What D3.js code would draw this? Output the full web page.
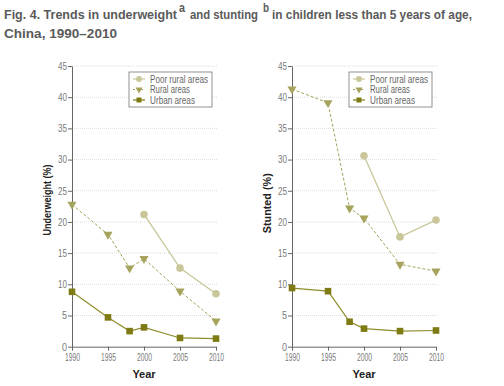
<!DOCTYPE html>
<html>
<head>
<meta charset="utf-8">
<script src="https://cdn.jsdelivr.net/npm/d3@7"></script>
<style>
body { margin: 0; background: #fff; }
.title { font-family: "Liberation Sans", Arial, sans-serif; font-weight: bold; font-size: 12.5px; fill: #5a5a5a; }
.tick text { font-family: "Liberation Sans", sans-serif; font-size: 10.5px; fill: #7a7a7a; }
.lab { font-family: "Liberation Sans", sans-serif; font-weight: bold; font-size: 11px; fill: #222; }
.leg { font-family: "Liberation Sans", sans-serif; font-size: 10px; fill: #666; }
</style>
</head>
<body>
<div id="chart"></div>
<script>
const years = [1990, 1995, 1998, 2000, 2005, 2010];
const poorYears = [2000, 2005, 2010];
const xTicks = [1990, 1995, 2000, 2005, 2010];
const yTicks = [0, 5, 10, 15, 20, 25, 30, 35, 40, 45];

const underweightPoor = [21.2, 12.6, 8.5];
const underweightRural = [22.8, 18.0, 12.6, 14.1, 8.9, 4.1];
const underweightUrban = [8.8, 4.7, 2.5, 3.1, 1.4, 1.3];

const stuntedPoor = [30.6, 17.6, 20.3];
const stuntedRural = [41.3, 39.1, 22.2, 20.6, 13.2, 12.1];
const stuntedUrban = [9.4, 8.9, 4.0, 2.9, 2.5, 2.6];

const width = 504, height = 386;
const colPoor = "#c9c79a", colRural = "#a5a35c", colUrban = "#7e7b14";

const svg = d3.select("#chart").append("svg")
    .attr("width", width)
    .attr("height", height);

// title line 1 as one text, pieces fitted to the widths in the original
const titleParts = [
    { t: "Fig. 4. Trends in underweight", x: 4, w: 173, y: 19 },
    { t: "a", x: 179, w: 6, y: 12 },
    { t: "and stunting", x: 190, w: 68, y: 19 },
    { t: "b", x: 263, w: 6, y: 12 },
    { t: "in children less than 5 years of age,", x: 272, w: 200, y: 19 }
];
const title = svg.append("text").attr("class", "title");
titleParts.forEach(p => {
    title.append("tspan")
        .attr("x", p.x).attr("y", p.y)
        .attr("textLength", p.w).attr("lengthAdjust", "spacingAndGlyphs")
        .text(p.t);
});
svg.append("text").attr("class", "title").attr("x", 4).attr("y", 38)
    .attr("textLength", 113).attr("lengthAdjust", "spacingAndGlyphs")
    .text("China, 1990\u20132010");

function fit(sel, w) {
    sel.attr("textLength", w).attr("lengthAdjust", "spacingAndGlyphs");
}

function panel(left, yLabel, poor, rural, urban) {
    const x = d3.scaleLinear().domain([1990, 2010]).range([left, left + 144]);
    const y = d3.scaleLinear().domain([0, 45]).range([346.7, 66]);
    const g = svg.append("g");

    g.selectAll(".grid").data(yTicks.slice(1)).enter().append("line")
        .attr("x1", left).attr("x2", left + 145)
        .attr("y1", d => y(d)).attr("y2", d => y(d))
        .attr("stroke", "#ddd").attr("stroke-dasharray", "1,1");

    const xa = g.append("g")
        .attr("transform", `translate(0,${y(0)})`)
        .call(d3.axisBottom(x).tickValues(xTicks).tickFormat(d3.format("d")).tickSize(4).tickSizeOuter(0));
    const ya = g.append("g")
        .attr("transform", `translate(${left},0)`)
        .call(d3.axisLeft(y).tickValues(yTicks).tickSize(4).tickSizeOuter(0));
    [xa, ya].forEach(a => {
        a.select(".domain").attr("stroke", "#666");
        a.selectAll(".tick line").attr("stroke", "#666");
    });
    ya.selectAll(".tick text").attr("x", -5).each(function (d) {
        fit(d3.select(this), d >= 10 ? 9 : 5);
    });
    xa.selectAll(".tick text").attr("y", 7).each(function () { fit(d3.select(this), 15); });

    g.append("text").attr("class", "lab")
        .attr("text-anchor", "middle")
        .attr("x", left + 72).attr("y", 378).text("Year");
    const long = yLabel.length > 12;
    const yl = g.append("text").attr("class", "lab")
        .attr("text-anchor", "middle")
        .attr("transform", `translate(${left - 21},${y(long ? 23.5 : 23)}) rotate(-90)`)
        .text(yLabel);
    fit(yl, long ? 71 : 60);

    const line = d3.line().x(d => x(d[0])).y(d => y(d[1]));
    const dPoor = poorYears.map((yr, i) => [yr, poor[i]]);
    const dRural = years.map((yr, i) => [yr, rural[i]]);
    const dUrban = years.map((yr, i) => [yr, urban[i]]);

    g.append("path").datum(dPoor).attr("d", line)
        .attr("fill", "none").attr("stroke", colPoor).attr("stroke-width", 1.3);
    g.append("path").datum(dRural).attr("d", line)
        .attr("fill", "none").attr("stroke", colRural).attr("stroke-width", 1).attr("stroke-dasharray", "3,2");
    g.append("path").datum(dUrban).attr("d", line)
        .attr("fill", "none").attr("stroke", "#8f8d2a").attr("stroke-width", 1.2);

    g.selectAll(".pp").data(dPoor).enter().append("circle")
        .attr("cx", d => x(d[0])).attr("cy", d => y(d[1])).attr("r", 3.8).attr("fill", colPoor);
    const tri = d3.symbol().type(d3.symbolTriangle).size(36);
    g.selectAll(".rp").data(dRural).enter().append("path")
        .attr("d", tri)
        .attr("transform", d => `translate(${x(d[0])},${y(d[1])}) rotate(180)`)
        .attr("fill", colRural);
    g.selectAll(".up").data(dUrban).enter().append("rect")
        .attr("x", d => x(d[0]) - 3.3).attr("y", d => y(d[1]) - 3.3)
        .attr("width", 6.6).attr("height", 6.6).attr("fill", colUrban);

    // legend
    const lx = left + 57, ly = 72;
    g.append("rect").attr("x", lx).attr("y", ly).attr("width", 83).attr("height", 35)
        .attr("fill", "#fff").attr("stroke", "#777").attr("stroke-width", 0.8);
    const items = [
        { name: "Poor rural areas", c: colPoor, dash: null, sym: "c", w: 58 },
        { name: "Rural areas", c: colRural, dash: "2,2", sym: "t", w: 40 },
        { name: "Urban areas", c: colUrban, dash: null, sym: "s", w: 45 }
    ];
    items.forEach((it, i) => {
        const yy = ly + 7 + i * 10.5;
        g.append("line").attr("x1", lx + 4).attr("x2", lx + 16).attr("y1", yy).attr("y2", yy)
            .attr("stroke", it.c).attr("stroke-width", 1.2).attr("stroke-dasharray", it.dash);
        if (it.sym === "c") g.append("circle").attr("cx", lx + 10).attr("cy", yy).attr("r", 3).attr("fill", it.c);
        if (it.sym === "t") g.append("path").attr("d", d3.symbol().type(d3.symbolTriangle).size(22))
            .attr("transform", `translate(${lx + 10},${yy}) rotate(180)`).attr("fill", it.c);
        if (it.sym === "s") g.append("rect").attr("x", lx + 7.5).attr("y", yy - 2.5).attr("width", 5).attr("height", 5).attr("fill", it.c);
        const t = g.append("text").attr("class", "leg").attr("x", lx + 21).attr("y", yy + 3.5).text(it.name);
        fit(t, it.w);
    });
}

panel(72, "Underweight (%)", underweightPoor, underweightRural, underweightUrban);
panel(292, "Stunted (%)", stuntedPoor, stuntedRural, stuntedUrban);
</script>
</body>
</html>
